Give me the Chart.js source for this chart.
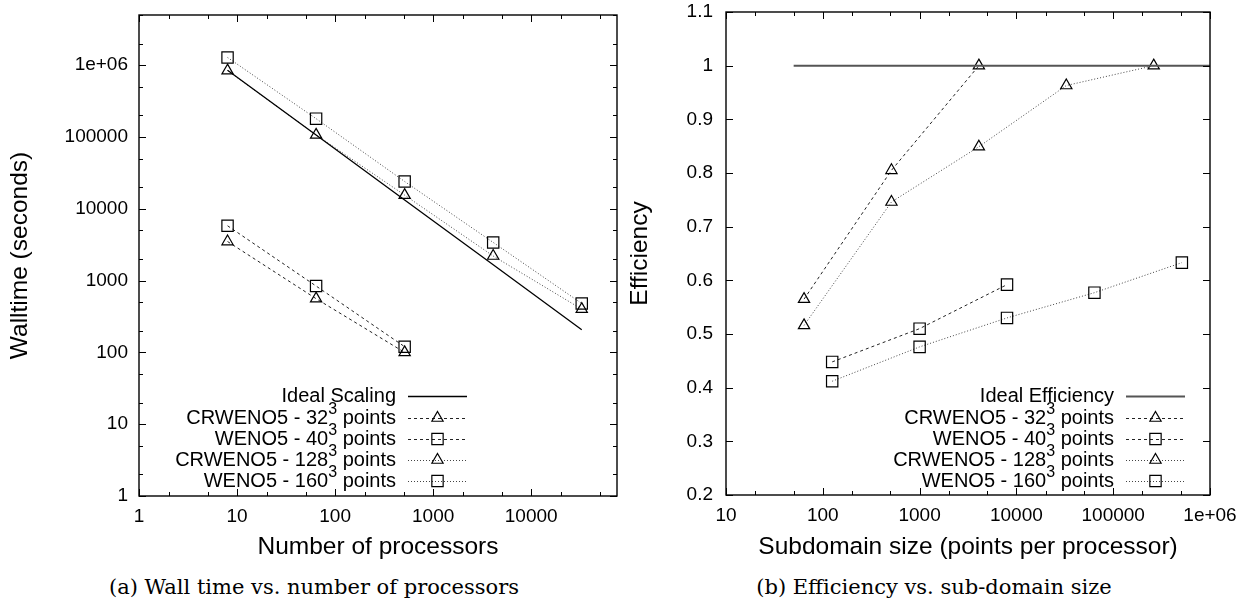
<!DOCTYPE html>
<html>
<head>
<meta charset="utf-8">
<script src="https://cdn.jsdelivr.net/npm/chart.js@4.4.0/dist/chart.umd.min.js"></script>
<style>
  html, body { margin: 0; padding: 0; background: #fff; }
  body { width: 1256px; height: 605px; position: relative; overflow: hidden; }
  .panel { position: absolute; top: 0; width: 628px; height: 565px; }
  #left-panel { left: 0; }
  #right-panel { left: 628px; }
  .caption { position: absolute; top: 573px; width: 628px; text-align: center; line-height: 28px;
             font-family: 'DejaVu Serif', 'Liberation Serif', serif; font-size: 21px; color: #000; }
</style>
</head>
<body>
<div class="panel" id="left-panel"><canvas id="walltime-chart"></canvas></div>
<div class="panel" id="right-panel"><canvas id="efficiency-chart"></canvas></div>
<div class="caption" style="left:0">(a) Wall time vs. number of processors</div>
<div class="caption" style="left:620px">(b) Efficiency vs. sub-domain size</div>

<script>
// (a) wall time vs number of processors
const processors = [8, 64, 512, 4096, 32768];
const smallProcessors = [8, 64, 512];
const idealWalltime = [850000, 106250, 13280, 1660, 207];
const crweno32Walltime = [3500, 560, 100];
const weno40Walltime = [5800, 840, 120];
const crweno128Walltime = [840000, 107000, 15500, 2200, 400];
const weno160Walltime = [1280000, 180000, 24000, 3400, 480];

// (b) efficiency vs subdomain size
const idealSubdomain = [50, 1000000];
const idealEfficiency = [1, 1];
const crweno32Subdomain = [64, 512, 4096];
const crweno32Efficiency = [0.565, 0.805, 1.0];
const weno40Subdomain = [125, 1000, 8000];
const weno40Efficiency = [0.448, 0.51, 0.592];
const crweno128Subdomain = [64, 512, 4096, 32768, 262144];
const crweno128Efficiency = [0.516, 0.746, 0.849, 0.963, 1.0];
const weno160Subdomain = [125, 1000, 8000, 64000, 512000];
const weno160Efficiency = [0.412, 0.476, 0.53, 0.577, 0.633];

// tick labels
const wallXTicks = [1, 10, 100, 1000, 10000];
const wallXLabels = ['1', '10', '100', '1000', '10000'];
const wallYTicks = [1, 10, 100, 1000, 10000, 100000, 1000000];
const wallYLabels = ['1', '10', '100', '1000', '10000', '100000', '1e+06'];
const effXTicks = [10, 100, 1000, 10000, 100000, 1000000];
const effXLabels = ['10', '100', '1000', '10000', '100000', '1e+06'];
const effYTicks = [0.2, 0.3, 0.4, 0.5, 0.6, 0.7, 0.8, 0.9, 1.0, 1.1];
const effYLabels = ['0.2', '0.3', '0.4', '0.5', '0.6', '0.7', '0.8', '0.9', '1', '1.1'];

const sans = "'Liberation Sans', Arial, sans-serif";

function zip(xs, ys) {
  return xs.map((x, i) => ({ x: x, y: ys[i] }));
}

// log axis ticks: majors at decades, minors at 2 and 5
function logTicks(min, max) {
  const out = [];
  for (let k = Math.floor(Math.log10(min)); k <= Math.ceil(Math.log10(max)); k++) {
    [1, 2, 5].forEach(m => {
      const v = m * Math.pow(10, k);
      if (v >= min && v <= max) out.push({ value: v, major: m === 1 });
    });
  }
  return out;
}

function labelFor(values, labels) {
  return (value) => {
    const i = values.findIndex(v => Math.abs(v - value) < 1e-9 * Math.max(1, v));
    return i >= 0 ? labels[i] : '';
  };
}

function drawMarker(ctx, style, x, y, r) {
  ctx.beginPath();
  if (style === 'triangle') {
    let rad = 0;
    ctx.moveTo(x + Math.sin(rad) * r, y - Math.cos(rad) * r);
    rad += Math.PI * 2 / 3;
    ctx.lineTo(x + Math.sin(rad) * r, y - Math.cos(rad) * r);
    rad += Math.PI * 2 / 3;
    ctx.lineTo(x + Math.sin(rad) * r, y - Math.cos(rad) * r);
    ctx.closePath();
  } else {
    const s = Math.SQRT1_2 * r;
    ctx.rect(x - s, y - s, 2 * s, 2 * s);
  }
  ctx.stroke();
}

// box + inward ticks on all four sides
const frameTicks = {
  id: 'frameTicks',
  afterDatasetsDraw(chart) {
    const ctx = chart.ctx;
    const a = chart.chartArea;
    const xs = chart.scales.x, ys = chart.scales.y;
    ctx.save();
    ctx.strokeStyle = '#000';
    ctx.lineWidth = 1;
    ctx.setLineDash([]);
    xs.ticks.forEach(t => {
      const px = Math.round(xs.getPixelForValue(t.value)) + 0.5;
      const len = t.major === false ? 4 : 7;
      ctx.beginPath();
      ctx.moveTo(px, a.bottom); ctx.lineTo(px, a.bottom - len);
      ctx.moveTo(px, a.top); ctx.lineTo(px, a.top + len);
      ctx.stroke();
    });
    ys.ticks.forEach(t => {
      const py = Math.round(ys.getPixelForValue(t.value)) + 0.5;
      const len = t.major === false ? 4 : 7;
      ctx.beginPath();
      ctx.moveTo(a.left, py); ctx.lineTo(a.left + len, py);
      ctx.moveTo(a.right, py); ctx.lineTo(a.right - len, py);
      ctx.stroke();
    });
    ctx.lineWidth = 1.4;
    ctx.strokeRect(a.left, a.top, a.right - a.left, a.bottom - a.top);
    ctx.restore();
  }
};

// gnuplot style key: right aligned text, sample line + marker on the right
const gnuKey = {
  id: 'gnuKey',
  afterDraw(chart, args, opts) {
    const ctx = chart.ctx;
    ctx.save();
    chart.data.datasets.forEach((ds, i) => {
      const y = opts.rows[i];
      const x2 = opts.right;
      const x1 = x2 - opts.sampleLen;
      // label, with ^3 drawn as superscript
      const m = ds.label.match(/^(.*?)\^(\S)(.*)$/);
      const parts = m ? [[m[1], 0], [m[2], 1], [m[3], 0]] : [[ds.label, 0]];
      const fontFor = sup => (sup ? Math.round(opts.fontSize * 0.8) : opts.fontSize) + 'px ' + sans;
      let total = 0;
      parts.forEach(p => { ctx.font = fontFor(p[1]); total += ctx.measureText(p[0]).width; });
      let x = x1 - opts.gap - total;
      ctx.fillStyle = '#000';
      ctx.textBaseline = 'middle';
      ctx.textAlign = 'left';
      parts.forEach(p => {
        ctx.font = fontFor(p[1]);
        ctx.fillText(p[0], x, p[1] ? y - opts.fontSize * 0.42 : y);
        x += ctx.measureText(p[0]).width;
      });
      ctx.strokeStyle = ds.borderColor;
      ctx.lineWidth = ds.borderWidth;
      ctx.setLineDash(ds.borderDash || []);
      ctx.beginPath();
      ctx.moveTo(x1, y + 0.5); ctx.lineTo(x2, y + 0.5);
      ctx.stroke();
      if (ds.pointRadius > 0) {
        ctx.setLineDash([]);
        ctx.strokeStyle = ds.pointBorderColor;
        ctx.lineWidth = ds.pointBorderWidth;
        drawMarker(ctx, ds.pointStyle, (x1 + x2) / 2, y, ds.pointRadius);
      }
    });
    ctx.restore();
  }
};

function series(label, data, dash, color, marker, width) {
  return {
    label: label,
    data: data,
    showLine: true,
    borderColor: color,
    borderWidth: width || 1,
    borderDash: dash,
    pointStyle: marker || 'circle',
    pointRadius: marker ? (marker === 'rect' ? 8 : 6.5) : 0,
    pointBorderColor: '#000',
    pointBackgroundColor: 'rgba(0,0,0,0)',
    pointBorderWidth: 1.2,
    tension: 0
  };
}

function axis(type, min, max, tickValues, tickLabels, title, fit, tickPad, titlePad) {
  return {
    type: type,
    min: min,
    max: max,
    grid: { display: false, drawTicks: false, tickLength: 0 },
    border: { display: false },
    afterBuildTicks: s => {
      s.ticks = type === 'logarithmic' ? logTicks(min, max) : tickValues.map(v => ({ value: v, major: true }));
    },
    afterFit: fit,
    ticks: {
      autoSkip: false,
      maxRotation: 0,
      minRotation: 0,
      padding: tickPad,
      color: '#000',
      font: { family: sans, size: 19 },
      callback: labelFor(tickValues, tickLabels)
    },
    title: {
      display: true,
      text: title,
      color: '#000',
      padding: titlePad,
      font: { family: sans, size: 24.5 }
    }
  };
}

Chart.defaults.animation = false;

new Chart(document.getElementById('walltime-chart'), {
  type: 'scatter',
  data: {
    datasets: [
      series('Ideal Scaling', zip(processors, idealWalltime), [], '#000', null, 1.3),
      series('CRWENO5 - 32^3 points', zip(smallProcessors, crweno32Walltime), [3, 3], '#222', 'triangle'),
      series('WENO5 - 40^3 points', zip(smallProcessors, weno40Walltime), [3, 3], '#222', 'rect'),
      series('CRWENO5 - 128^3 points', zip(processors, crweno128Walltime), [1, 2], '#444', 'triangle'),
      series('WENO5 - 160^3 points', zip(processors, weno160Walltime), [1, 2], '#444', 'rect')
    ]
  },
  options: {
    responsive: true,
    maintainAspectRatio: false,
    layout: { padding: { left: 0, top: 15, right: 11, bottom: 0 } },
    scales: {
      x: axis('logarithmic', 1, 75000, wallXTicks, wallXLabels, 'Number of processors',
        s => { s.height = 69; s.paddingLeft = 0; s.paddingRight = 0; }, 9, { top: 0, bottom: 3 }),
      y: axis('logarithmic', 1, 5000000, wallYTicks, wallYLabels, 'Walltime (seconds)',
        s => { s.width = 139; s.paddingTop = 0; s.paddingBottom = 0; }, 11, { top: 6, bottom: 0 })
    },
    plugins: {
      legend: { display: false },
      tooltip: { enabled: false },
      gnuKey: { right: 467, rows: [396, 418, 439, 460, 481], sampleLen: 59, gap: 12, fontSize: 20 }
    }
  },
  plugins: [frameTicks, gnuKey]
});

new Chart(document.getElementById('efficiency-chart'), {
  type: 'scatter',
  data: {
    datasets: [
      series('Ideal Efficiency', zip(idealSubdomain, idealEfficiency), [], '#555', null, 2),
      series('CRWENO5 - 32^3 points', zip(crweno32Subdomain, crweno32Efficiency), [3, 3], '#222', 'triangle'),
      series('WENO5 - 40^3 points', zip(weno40Subdomain, weno40Efficiency), [3, 3], '#222', 'rect'),
      series('CRWENO5 - 128^3 points', zip(crweno128Subdomain, crweno128Efficiency), [1, 2], '#444', 'triangle'),
      series('WENO5 - 160^3 points', zip(weno160Subdomain, weno160Efficiency), [1, 2], '#444', 'rect')
    ]
  },
  options: {
    responsive: true,
    maintainAspectRatio: false,
    layout: { padding: { left: 0, top: 12, right: 46, bottom: 0 } },
    scales: {
      x: axis('logarithmic', 10, 1000000, effXTicks, effXLabels, 'Subdomain size (points per processor)',
        s => { s.height = 70; s.paddingLeft = 0; s.paddingRight = 0; }, 9, { top: 0, bottom: 3 }),
      y: axis('linear', 0.2, 1.1, effYTicks, effYLabels, 'Efficiency',
        s => { s.width = 98; s.paddingTop = 0; s.paddingBottom = 0; }, 13, { top: -2, bottom: 0 })
    },
    plugins: {
      legend: { display: false },
      tooltip: { enabled: false },
      gnuKey: { right: 557, rows: [396, 418, 439, 460, 481], sampleLen: 59, gap: 12, fontSize: 20 }
    }
  },
  plugins: [frameTicks, gnuKey]
});
</script>
</body>
</html>
